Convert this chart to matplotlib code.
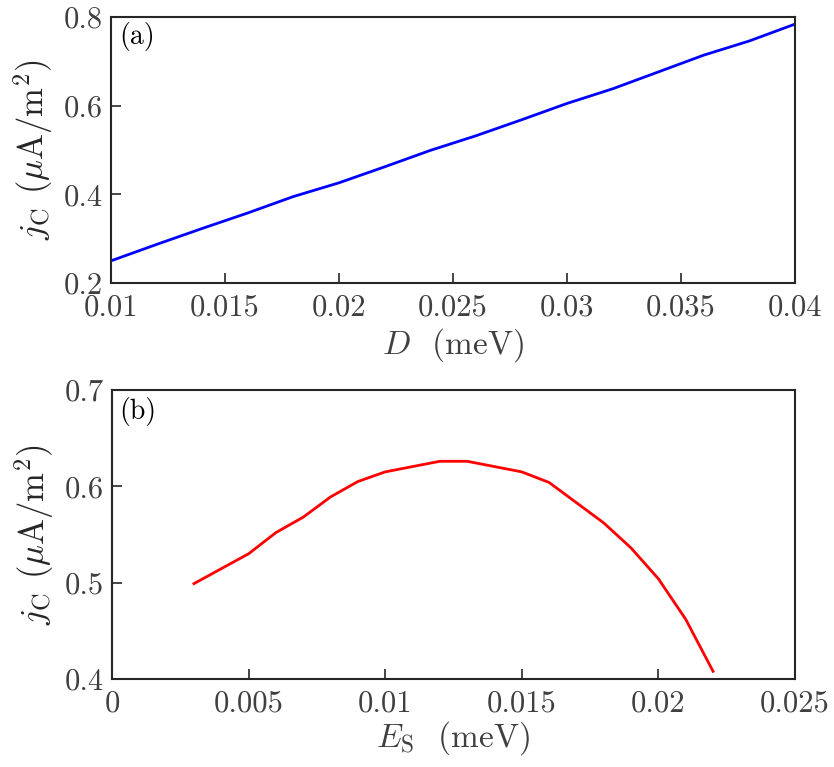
import matplotlib
matplotlib.use("Agg")
from matplotlib import pyplot as plt

# (a) j_C versus D
D = [0.010, 0.012, 0.014, 0.016, 0.018, 0.020, 0.022, 0.024, 0.026, 0.028,
     0.030, 0.032, 0.034, 0.036, 0.038, 0.040]
jc_a = [0.250, 0.287, 0.323, 0.358, 0.395, 0.426, 0.462, 0.499, 0.532, 0.568,
        0.605, 0.638, 0.676, 0.714, 0.746, 0.784]

# (b) j_C versus E_S
Es = [0.003, 0.005, 0.006, 0.007, 0.008, 0.009, 0.010, 0.012, 0.013, 0.015,
      0.016, 0.018, 0.019, 0.020, 0.021, 0.022]
jc_b = [0.499, 0.530, 0.552, 0.568, 0.589, 0.605, 0.615, 0.626, 0.626, 0.615,
        0.604, 0.562, 0.536, 0.504, 0.462, 0.408]

plt.rcParams['font.family'] = ['cmr10', 'DejaVu Serif']
plt.rcParams['mathtext.fontset'] = 'cm'
plt.rcParams['axes.formatter.use_mathtext'] = True
plt.rcParams['axes.unicode_minus'] = False

tick_col = "#404040"
spine_col = "#262626"

fig = plt.figure(figsize=(8.34, 7.67), dpi=100)
ax1 = fig.add_axes([111/834, 1-283/767, 684/834, 266/767])
ax2 = fig.add_axes([112/834, 1-679/767, 683/834, 289/767])

ax1.plot(D, jc_a, color="#0000ff", linewidth=2)
ax1.set_xlim(0.01, 0.04)
ax1.set_ylim(0.2, 0.8)
ax1.set_xticks([0.01, 0.015, 0.02, 0.025, 0.03, 0.035, 0.04])
ax1.set_xticklabels(["0.01", "0.015", "0.02", "0.025", "0.03", "0.035", "0.04"])
ax1.set_yticks([0.2, 0.4, 0.6, 0.8])
ax1.set_yticklabels(["0.2", "0.4", "0.6", "0.8"])
ax1.set_xlabel(r"$D$  (meV)", fontsize=24, color=tick_col, labelpad=3)
ax1.text(0.012, 0.925, "(a)", transform=ax1.transAxes, fontsize=20, va="center")

ax2.plot(Es, jc_b, color="#ff0000", linewidth=2)
ax2.set_xlim(0, 0.025)
ax2.set_ylim(0.4, 0.7)
ax2.set_xticks([0, 0.005, 0.01, 0.015, 0.02, 0.025])
ax2.set_xticklabels(["0", "0.005", "0.01", "0.015", "0.02", "0.025"])
ax2.set_yticks([0.4, 0.5, 0.6, 0.7])
ax2.set_yticklabels(["0.4", "0.5", "0.6", "0.7"])
ax2.set_xlabel(r"$E_\mathrm{S}$  (meV)", fontsize=24, color=tick_col, labelpad=1)
ax2.text(0.01, 0.925, "(b)", transform=ax2.transAxes, fontsize=20, va="center")

for ax in (ax1, ax2):
    ax.set_ylabel(r"$j_\mathrm{C}$ ($\mu$A/m$^2$)", fontsize=25, color=spine_col,
                  labelpad=6)
    ax.tick_params(axis="x", pad=8)
    ax.tick_params(axis="y", pad=6)
    ax.tick_params(direction="in", length=7, width=1.2, labelsize=22,
                   labelcolor=tick_col, color=spine_col, top=False, right=False)
    for s in ax.spines.values():
        s.set_linewidth(1.5)
        s.set_color(spine_col)

fig.savefig("out.png", dpi=100)
